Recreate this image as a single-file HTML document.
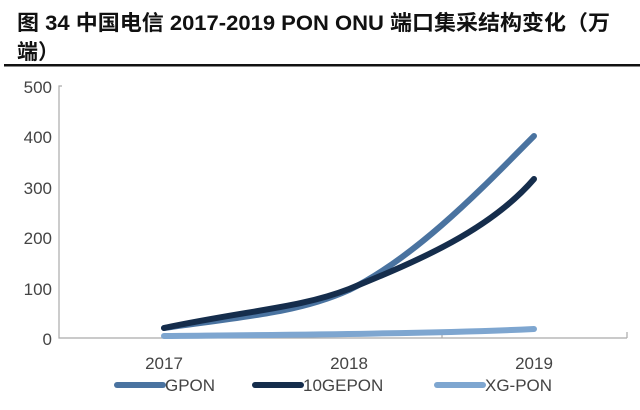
<!DOCTYPE html><html><head><style>body{margin:0;background:#fff;width:640px;height:405px;overflow:hidden;font-family:"Liberation Sans","Noto Sans CJK SC",sans-serif}</style></head><body>
<svg width="640" height="405" xmlns="http://www.w3.org/2000/svg">
<text x="17" y="30" font-size="21" font-weight="bold" fill="#111" textLength="593" lengthAdjust="spacingAndGlyphs" font-family="Liberation Sans,Noto Sans CJK SC,sans-serif">图 34  中国电信 2017-2019 PON ONU 端口集采结构变化（万</text>
<text x="17" y="59" font-size="21" font-weight="bold" fill="#111" font-family="Liberation Sans,Noto Sans CJK SC,sans-serif">端）</text>
<rect x="4" y="64" width="636" height="2.5" fill="#111"/>
<g font-size="17" fill="#444" text-anchor="end" font-family="Liberation Sans,sans-serif">
<text x="52" y="93">500</text><text x="52" y="143">400</text><text x="52" y="194">300</text><text x="52" y="244">200</text><text x="52" y="295">100</text><text x="52" y="345">0</text></g>
<g stroke="#aaa" stroke-width="1.2" fill="none"><path d="M62 86H59V338H627"/><path d="M257 338v-4M442 338v-4M627 338v-6"/></g>
<g font-size="17" fill="#444" text-anchor="middle"><text x="164" y="369">2017</text><text x="349" y="369">2018</text><text x="534" y="369">2019</text></g>
<g fill="none" stroke-width="6" stroke-linecap="round">
<path d="M164 336 C 260 335, 430 334, 534 329" stroke="#7ea6d0"/>
<path d="M164 328 C 250 316, 300 312, 349 290 C 420 255, 490 180, 534 136" stroke="#4a73a0"/>
<path d="M164 328 C 250 310, 300 308, 349 289 C 420 260, 490 230, 534 179" stroke="#152d4c"/>
</g>
<g stroke-width="6" stroke-linecap="round"><line x1="117" y1="385" x2="163" y2="385" stroke="#4a73a0"/><line x1="255" y1="385" x2="301" y2="385" stroke="#152d4c"/><line x1="437" y1="385" x2="483" y2="385" stroke="#7ea6d0"/></g>
<g font-size="17" fill="#444"><text x="165" y="391">GPON</text><text x="303" y="391">10GEPON</text><text x="485" y="391">XG-PON</text></g>
</svg></body></html>
